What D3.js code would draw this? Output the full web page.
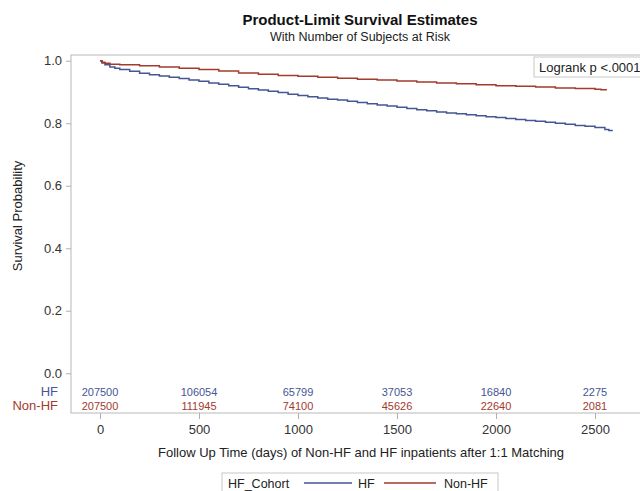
<!DOCTYPE html>
<html lang="en">
<head>
  <meta charset="UTF-8" />
  <title>Product-Limit Survival Estimates</title>
  <script src="https://d3js.org/d3.v7.min.js"></script>
  <style>
    body { margin: 0; background: white; }
    svg { display: block; font-family: "Liberation Sans", Arial, sans-serif; }
    .axis text { fill: #333; font-size: 13px; }
    .axis path, .axis line { stroke: #b0b0b0; }
  </style>
</head>
<body>
<div id="chart"></div>
<script>
// --- data ---
const groups = ["HF", "Non-HF"];
const groupColors = ["#445694", "#A23A2E"];

const hfTime = [0, 10, 25, 50, 75, 100, 150, 200, 250, 300, 350, 400, 450, 500, 550, 600, 650, 700,
                750, 800, 850, 900, 950, 1000, 1050, 1100, 1150, 1200, 1250, 1300, 1350, 1400, 1450,
                1500, 1550, 1600, 1650, 1700, 1750, 1800, 1850, 1900, 1950, 2000, 2050, 2100, 2150,
                2200, 2250, 2300, 2350, 2400, 2450, 2500, 2550, 2570, 2590];
const hfSurv = [1.000, 0.993, 0.987, 0.980, 0.976, 0.972, 0.966, 0.960, 0.955, 0.951, 0.947, 0.943,
                0.938, 0.934, 0.929, 0.925, 0.920, 0.915, 0.910, 0.906, 0.902, 0.898, 0.893, 0.889,
                0.885, 0.881, 0.877, 0.874, 0.870, 0.866, 0.862, 0.858, 0.855, 0.851, 0.847, 0.843,
                0.840, 0.836, 0.833, 0.830, 0.827, 0.824, 0.821, 0.818, 0.815, 0.812, 0.809, 0.806,
                0.803, 0.800, 0.797, 0.793, 0.790, 0.786, 0.780, 0.777, 0.777];

const nonhfTime = [0, 10, 25, 50, 100, 200, 300, 400, 500, 600, 700, 800, 900, 1000, 1100, 1200, 1300,
                   1400, 1500, 1600, 1700, 1800, 1900, 2000, 2100, 2200, 2300, 2400, 2500, 2530, 2560];
const nonhfSurv = [1.000, 0.995, 0.992, 0.989, 0.987, 0.984, 0.980, 0.976, 0.972, 0.967, 0.961, 0.957,
                   0.953, 0.950, 0.947, 0.944, 0.941, 0.938, 0.935, 0.932, 0.929, 0.926, 0.923, 0.920,
                   0.918, 0.916, 0.913, 0.911, 0.909, 0.907, 0.907];

const riskTimes = [0, 500, 1000, 1500, 2000, 2500];
const hfAtRisk = [207500, 106054, 65799, 37053, 16840, 2275];
const nonhfAtRisk = [207500, 111945, 74100, 45626, 22640, 2081];

const xTicks = [0, 500, 1000, 1500, 2000, 2500];
const yTicks = [0, 0.2, 0.4, 0.6, 0.8, 1.0];

// --- layout ---
const W = 640, H = 491;
const frame = { left: 71, right: 649, top: 55, bottom: 413 };

const svg = d3.select("#chart").append("svg")
  .attr("width", W).attr("height", H);

const x = d3.scaleLinear().domain([0, 2500]).range([100, 595]);
const y = d3.scaleLinear().domain([0, 1]).range([373.3, 60.7]);

// titles
svg.append("text").attr("x", 360).attr("y", 25).attr("text-anchor", "middle")
  .style("font-size", "15px").style("font-weight", "bold").attr("fill", "#111")
  .text("Product-Limit Survival Estimates");
svg.append("text").attr("x", 360).attr("y", 41).attr("text-anchor", "middle")
  .style("font-size", "12.5px").attr("fill", "#222")
  .text("With Number of Subjects at Risk");

// frame
svg.append("rect")
  .attr("x", frame.left).attr("y", frame.top)
  .attr("width", frame.right - frame.left).attr("height", frame.bottom - frame.top)
  .attr("fill", "none").attr("stroke", "#b8b8b8");

// y axis
const yAxis = svg.append("g").attr("class", "axis")
  .attr("transform", `translate(${frame.left},0)`)
  .call(d3.axisLeft(y).tickValues(yTicks).tickFormat(d3.format(".1f")).tickSize(5).tickPadding(4));
yAxis.select(".domain").remove();

// x axis
const xAxis = svg.append("g").attr("class", "axis")
  .attr("transform", `translate(0,${frame.bottom})`)
  .call(d3.axisBottom(x).tickValues(xTicks).tickFormat(d3.format("d")).tickSize(6).tickPadding(6));
xAxis.select(".domain").remove();

// axis titles
svg.append("text")
  .attr("transform", "translate(22,216) rotate(-90)")
  .attr("text-anchor", "middle").style("font-size", "13px").attr("fill", "#222")
  .text("Survival Probability");
svg.append("text").attr("x", 361).attr("y", 457).attr("text-anchor", "middle")
  .style("font-size", "13px").attr("fill", "#222")
  .text("Follow Up Time (days) of Non-HF and HF inpatients after 1:1 Matching");

// survival curves
svg.append("clipPath").attr("id", "clip").append("rect")
  .attr("x", frame.left).attr("y", frame.top)
  .attr("width", frame.right - frame.left).attr("height", frame.bottom - frame.top);

const line = d3.line().x(d => x(d[0])).y(d => y(d[1])).curve(d3.curveStepAfter);
const series = [
  d3.zip(hfTime, hfSurv),
  d3.zip(nonhfTime, nonhfSurv)
];
series.forEach((s, i) => {
  svg.append("path")
    .attr("clip-path", "url(#clip)")
    .attr("d", line(s))
    .attr("fill", "none")
    .attr("stroke", groupColors[i])
    .attr("stroke-width", 1.5);
});

// logrank inset
svg.append("rect").attr("x", 534).attr("y", 57).attr("width", 120).attr("height", 20)
  .attr("fill", "white").attr("stroke", "#c8c8c8");
svg.append("text").attr("x", 539).attr("y", 72).style("font-size", "13px").attr("fill", "#222")
  .text("Logrank p <.0001");

// at-risk table
const riskRows = [hfAtRisk, nonhfAtRisk];
const rowY = [396, 410];
riskRows.forEach((row, i) => {
  svg.append("text").attr("x", 58).attr("y", rowY[i]).attr("text-anchor", "end")
    .style("font-size", "13px").attr("fill", groupColors[i]).text(groups[i]);
  svg.selectAll(null).data(row).enter().append("text")
    .attr("x", (d, j) => x(riskTimes[j]))
    .attr("y", rowY[i] - 0.5)
    .attr("text-anchor", "middle")
    .style("font-size", "11px")
    .attr("fill", groupColors[i])
    .text(d => d);
});

// legend
const lg = svg.append("g");
lg.append("rect").attr("x", 222).attr("y", 473).attr("width", 276).attr("height", 22)
  .attr("fill", "white").attr("stroke", "#c8c8c8");
lg.append("text").attr("x", 228).attr("y", 488).style("font-size", "12.5px").attr("fill", "#222")
  .text("HF_Cohort");
const legendItems = [
  { x1: 304, x2: 352, tx: 358 },
  { x1: 384, x2: 436, tx: 444 }
];
legendItems.forEach((it, i) => {
  lg.append("line").attr("x1", it.x1).attr("x2", it.x2).attr("y1", 483).attr("y2", 483)
    .attr("stroke", groupColors[i]).attr("stroke-width", 1.5);
  lg.append("text").attr("x", it.tx).attr("y", 488).style("font-size", "12.5px").attr("fill", "#222")
    .text(groups[i]);
});
</script>
</body>
</html>
